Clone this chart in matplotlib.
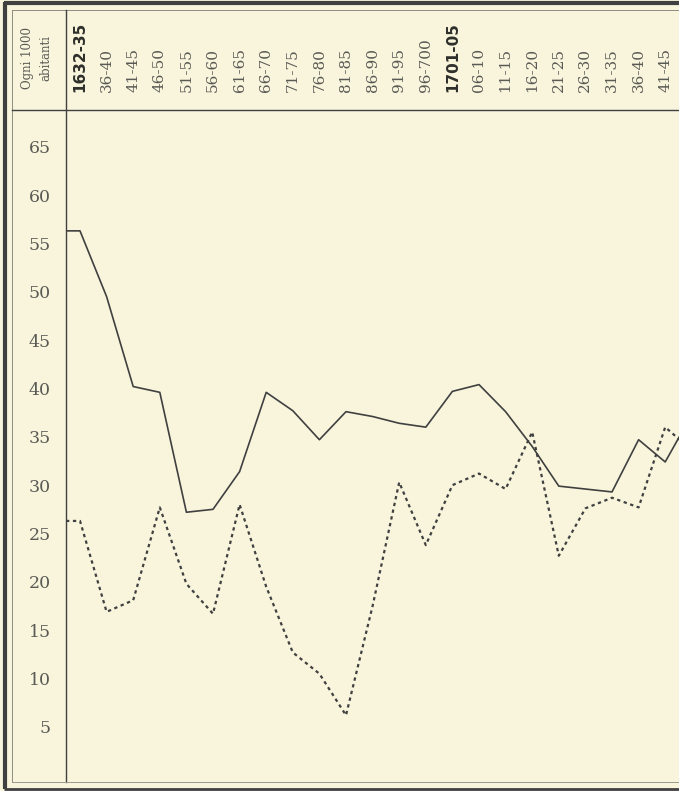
import numpy as np
import matplotlib
matplotlib.use('Agg')
import matplotlib.pyplot as plt
from matplotlib.transforms import blended_transform_factory

W, H = 679, 791

# five-year periods (the last one is cut off at the right edge of the page)
periodi = ['1632-35', '36-40', '41-45', '46-50', '51-55', '56-60', '61-65',
           '66-70', '71-75', '76-80', '81-85', '86-90', '91-95', '96-700',
           '1701-05', '06-10', '11-15', '16-20', '21-25', '26-30', '31-35',
           '36-40', '41-45', '46-50']
bold_labels = ['1632-35', '1701-05']
n_visibili = 23  # header labels that fit on the page

# rate per 1000 inhabitants, solid line
serie_continua = [56.3, 49.5, 40.2, 39.6, 27.2, 27.5, 31.4, 39.6, 37.7, 34.7,
                  37.6, 37.1, 36.4, 36.0, 39.7, 40.4, 37.6, 34.0, 29.9, 29.6,
                  29.3, 34.7, 32.4, 37.3]
# rate per 1000 inhabitants, dotted line
serie_punteggiata = [26.3, 16.9, 18.1, 27.7, 19.8, 16.7, 28.0, 19.5, 12.7, 10.5,
                     6.2, 17.5, 30.3, 23.8, 30.0, 31.2, 29.6, 35.5, 22.7, 27.6,
                     28.7, 27.7, 36.0, 33.6]

y_ticks = list(range(5, 70, 5))

BG = '#f8f5dc'
INK = '#404040'
TXT = '#5a5a55'

fig = plt.figure(figsize=(W / 100, H / 100), dpi=100, facecolor=BG)

# full-page overlay in pixel units for the ruled frame
frame = fig.add_axes([0, 0, 1, 1], facecolor='none')
frame.set_xlim(0, W)
frame.set_ylim(H, 0)
frame.axis('off')

frame.plot([5, 5], [2, 789], color=INK, lw=3.0, solid_capstyle='butt')
frame.plot([4, W], [3, 3], color=INK, lw=3.0, solid_capstyle='butt')
frame.plot([12, 12], [10, 782], color='#8c8c84', lw=0.7)
frame.plot([12, W], [10, 10], color='#8c8c84', lw=0.7)
frame.plot([12, W], [110, 110], color=INK, lw=1.0)
frame.plot([66, 66], [10, 782], color=INK, lw=1.0)
frame.plot([12, W], [782, 782], color='#9a9a90', lw=0.7)
frame.plot([4, W], [789, 789], color=INK, lw=2.0, solid_capstyle='butt')

frame.text(28, 58, 'Ogni 1000', rotation=90, ha='center', va='center',
           family='DejaVu Serif', fontsize=8.5, color=TXT)
frame.text(46, 58, 'abitanti', rotation=90, ha='center', va='center',
           family='DejaVu Serif', fontsize=8.5, color=TXT)

# data axes
x0, x1, y0, y1 = 66, W, 110, 782
ax = fig.add_axes([x0 / W, 1 - y1 / H, (x1 - x0) / W, (y1 - y0) / H],
                  facecolor='none')
step = 26.6
ax.set_xlim((x0 - 80) / step, (x1 - 80) / step)
ax.set_ylim(-0.7, 68.8)
for s in ax.spines.values():
    s.set_visible(False)
ax.set_xticks([])
ax.set_yticks(y_ticks)
ax.set_yticklabels([str(v) for v in y_ticks], family='DejaVu Serif',
                   fontsize=12.5, color=TXT)
ax.tick_params(axis='y', length=0, pad=11)

idx = np.arange(len(periodi))
xl = ax.get_xlim()[0]
xs = np.r_[xl, idx]
ax.plot(xs, np.r_[serie_continua[0], serie_continua], color=INK, lw=1.2)
ax.plot(xs, np.r_[serie_punteggiata[0], serie_punteggiata], color=INK,
        lw=1.6, linestyle=(0, (1.5, 1.6)))

# period labels in the header row
hdr = blended_transform_factory(ax.transData, frame.transData)
for i, lab in enumerate(periodi[:n_visibili]):
    if lab in bold_labels:
        ax.text(i, 92, lab, transform=hdr, rotation=90, ha='center',
                va='bottom', family='DejaVu Sans', fontweight='bold',
                fontsize=11, color='#2e2e2a', clip_on=False)
    else:
        ax.text(i, 92, lab, transform=hdr, rotation=90, ha='center',
                va='bottom', family='DejaVu Serif', fontsize=11,
                color=TXT, clip_on=False)

fig.savefig('out.png', dpi=100, facecolor=BG)
